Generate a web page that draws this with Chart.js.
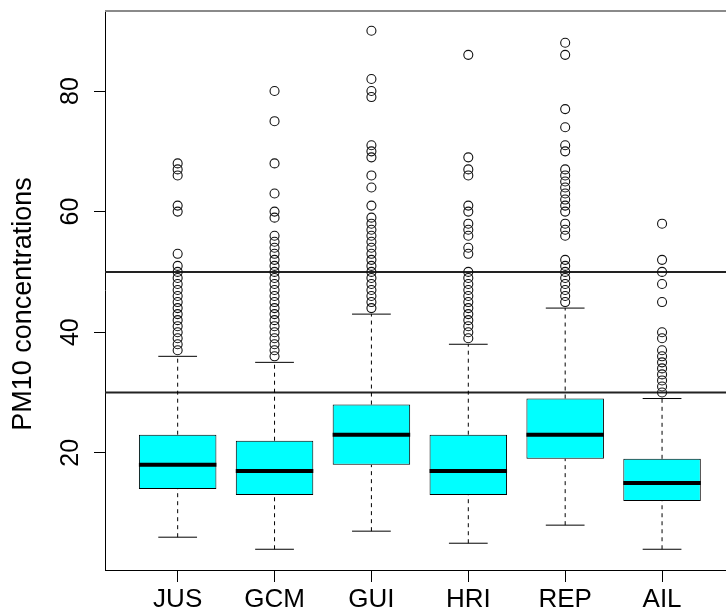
<!DOCTYPE html>
<html>
<head>
<meta charset="utf-8">
<script src="https://cdn.jsdelivr.net/npm/chart.js@4.4.1/dist/chart.umd.min.js"></script>
<style>
  html, body { margin: 0; padding: 0; background: #fff; }
  #wrap { width: 726px; height: 612px; }
</style>
</head>
<body>
<div id="wrap"><canvas id="boxChart" width="726" height="612"></canvas></div>
<script>
// Box plot data (PM10 per site)
const categories = ['JUS', 'GCM', 'GUI', 'HRI', 'REP', 'AIL'];
const q1 = [14, 13, 18, 13, 19, 12];
const medians = [18, 17, 23, 17, 23, 15];
const q3 = [23, 22, 28, 23, 29, 19];
const whiskerLow = [6, 4, 7, 5, 8, 4];
const whiskerHigh = [36, 35, 43, 38, 44, 29];

const outliersJUS = [68, 67, 66, 61, 60, 53, 51, 50, 49, 48, 47, 46, 45, 44, 43, 42, 41, 40, 39, 38, 37];
const outliersGCM = [80, 75, 68, 63, 60, 59, 56, 55, 54, 53, 52, 51, 50, 49, 48, 47, 46, 45, 44, 43, 42, 41, 40, 39, 38, 37, 36];
const outliersGUI = [90, 82, 80, 79, 71, 70, 69, 66, 64, 61, 59, 58, 57, 56, 55, 54, 53, 52, 51, 50, 49, 48, 47, 46, 45, 44];
const outliersHRI = [86, 69, 67, 66, 61, 60, 58, 57, 56, 54, 53, 50, 49, 48, 47, 46, 45, 44, 43, 42, 41, 40, 39];
const outliersREP = [88, 86, 77, 74, 71, 70, 67, 66, 65, 64, 63, 62, 61, 60, 58, 57, 56, 52, 51, 50, 49, 48, 47, 46, 45];
const outliersAIL = [58, 52, 50, 48, 45, 40, 39, 37, 36, 35, 34, 33, 32, 31, 30];

const limitLines = [30, 50];
const yTicks = [20, 40, 60, 80];
const yTitle = 'PM10 concentrations';

const xMin = 0.25;
const xMax = 6.66;
const capHalf = 0.2;
const medHalf = 0.4;

const FONT = '"Liberation Sans", Arial, sans-serif';

// build segment lists (NaN breaks the line between segments)
function segments(pairs) {
  const pts = [];
  pairs.forEach(p => {
    pts.push(p[0], p[1], { x: NaN, y: null });
  });
  return pts;
}

const medianPts = segments(categories.map((_, i) => [
  { x: i + 1 - medHalf, y: medians[i] }, { x: i + 1 + medHalf, y: medians[i] }
]));

const whiskerPts = segments([].concat(
  categories.map((_, i) => [{ x: i + 1, y: q3[i] }, { x: i + 1, y: whiskerHigh[i] }]),
  categories.map((_, i) => [{ x: i + 1, y: whiskerLow[i] }, { x: i + 1, y: q1[i] }])
));

const capPts = segments([].concat(
  categories.map((_, i) => [{ x: i + 1 - capHalf, y: whiskerHigh[i] }, { x: i + 1 + capHalf, y: whiskerHigh[i] }]),
  categories.map((_, i) => [{ x: i + 1 - capHalf, y: whiskerLow[i] }, { x: i + 1 + capHalf, y: whiskerLow[i] }])
));

const limitPts = segments(limitLines.map(v => [{ x: xMin, y: v }, { x: xMax, y: v }]));

const allOutliers = [outliersJUS, outliersGCM, outliersGUI, outliersHRI, outliersREP, outliersAIL];
const outlierPts = [];
allOutliers.forEach((list, i) => {
  list.forEach(v => outlierPts.push({ x: i + 1, y: v }));
});

const boxPts = categories.map((_, i) => ({ x: i + 1, y: [q1[i], q3[i]] }));

// extra drawing: top border, rotated y tick labels, y title
const axisExtras = {
  id: 'axisExtras',
  afterDraw(chart) {
    const ctx = chart.ctx;
    const area = chart.chartArea;
    const y = chart.scales.y;
    ctx.save();
    ctx.strokeStyle = '#8a8a8a';
    ctx.lineWidth = 2;
    ctx.beginPath();
    ctx.moveTo(area.left, area.top + 1);
    ctx.lineTo(726, area.top + 1);
    ctx.stroke();

    ctx.fillStyle = '#000';
    ctx.font = '25px ' + FONT;
    ctx.textAlign = 'center';
    ctx.textBaseline = 'middle';
    yTicks.forEach(v => {
      const py = y.getPixelForValue(v);
      ctx.save();
      ctx.translate(71, py);
      ctx.rotate(-Math.PI / 2);
      ctx.fillText(String(v), 0, 0);
      ctx.restore();
    });

    ctx.font = '27px ' + FONT;
    ctx.save();
    ctx.translate(24, 304);
    ctx.rotate(-Math.PI / 2);
    ctx.fillText(yTitle, 0, 0);
    ctx.restore();
    ctx.restore();
  }
};

const lineDefaults = {
  type: 'scatter',
  showLine: true,
  pointRadius: 0,
  pointHoverRadius: 0,
  spanGaps: false,
  fill: false
};

new Chart(document.getElementById('boxChart'), {
  type: 'bar',
  data: {
    datasets: [
      Object.assign({}, lineDefaults, {
        label: 'limits',
        data: limitPts,
        borderColor: '#222',
        borderWidth: 2,
        order: 4
      }),
      Object.assign({}, lineDefaults, {
        label: 'whiskers',
        data: whiskerPts,
        borderColor: '#000',
        borderWidth: 1,
        borderDash: [4, 4],
        order: 3
      }),
      Object.assign({}, lineDefaults, {
        label: 'caps',
        data: capPts,
        borderColor: '#000',
        borderWidth: 1,
        order: 3
      }),
      {
        type: 'bar',
        label: 'boxes',
        data: boxPts,
        backgroundColor: '#00FFFF',
        borderColor: '#000',
        borderWidth: 1,
        borderSkipped: false,
        barPercentage: 0.8,
        categoryPercentage: 1,
        order: 2
      },
      Object.assign({}, lineDefaults, {
        label: 'medians',
        data: medianPts,
        borderColor: '#000',
        borderWidth: 4,
        borderCapStyle: 'butt',
        order: 1
      }),
      {
        type: 'scatter',
        label: 'outliers',
        data: outlierPts,
        pointStyle: 'circle',
        pointRadius: 4.5,
        pointBorderWidth: 1.1,
        pointBorderColor: '#111',
        pointBackgroundColor: 'rgba(0,0,0,0)',
        borderColor: '#111',
        backgroundColor: 'rgba(0,0,0,0)',
        order: 0
      }
    ]
  },
  options: {
    responsive: false,
    animation: false,
    events: [],
    layout: { autoPadding: false, padding: { top: 10, right: 0, left: 0, bottom: 0 } },
    plugins: {
      legend: { display: false },
      tooltip: { enabled: false }
    },
    scales: {
      x: {
        type: 'linear',
        offset: false,
        min: xMin,
        max: xMax,
        afterBuildTicks: scale => {
          scale.ticks = categories.map((_, i) => ({ value: i + 1 }));
        },
        afterFit: scale => {
          scale.height = 42;
          scale.paddingLeft = 0;
          scale.paddingRight = 0;
        },
        grid: {
          offset: false,
          drawOnChartArea: false,
          drawTicks: true,
          tickLength: 12,
          color: '#000'
        },
        border: { display: true, color: '#000', width: 1 },
        ticks: {
          autoSkip: false,
          maxRotation: 0,
          padding: 2,
          color: '#000',
          font: { family: FONT, size: 26 },
          callback: value => categories[Math.round(value) - 1] || ''
        }
      },
      y: {
        type: 'linear',
        min: 0.56,
        max: 93.44,
        afterBuildTicks: scale => {
          scale.ticks = yTicks.map(v => ({ value: v }));
        },
        afterFit: scale => {
          scale.width = 105;
          scale.paddingTop = 0;
          scale.paddingBottom = 0;
        },
        grid: {
          drawOnChartArea: false,
          drawTicks: true,
          tickLength: 11,
          color: '#000'
        },
        border: { display: true, color: '#000', width: 1 },
        ticks: { display: false }
      }
    }
  },
  plugins: [axisExtras]
});
</script>
</body>
</html>
